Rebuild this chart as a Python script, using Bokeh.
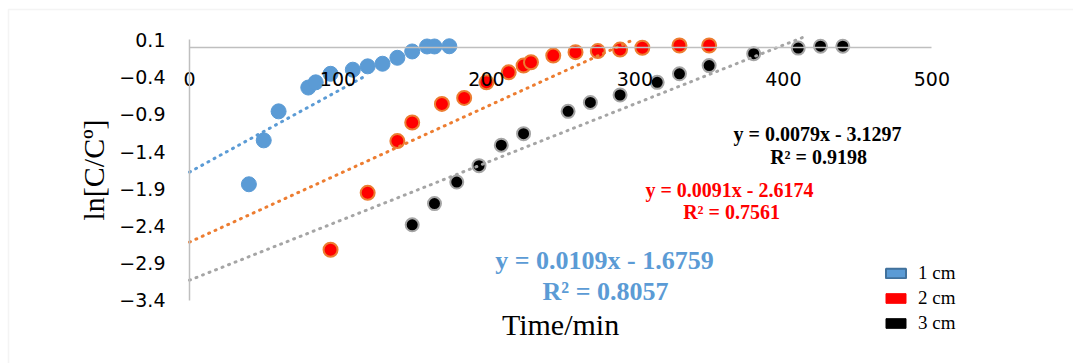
import math
from bokeh.plotting import figure
from bokeh.models import (LinearAxis, FixedTicker, Range1d, Label, Legend,
                          LegendItem, BoxAnnotation)
from bokeh.embed import file_html
from bokeh.resources import INLINE

# ---------------- data ----------------
t_1cm = [40, 50, 60, 80, 85, 95, 110, 120, 130, 140, 150, 160, 165, 175]
ln_1cm = [-1.84, -1.25, -0.86, -0.54, -0.47, -0.355, -0.30, -0.255, -0.22,
          -0.14, -0.055, 0.012, 0.012, 0.015]

t_2cm = [95, 120, 140, 150, 170, 185, 200, 215, 225, 230, 245, 260, 275, 290,
         305, 330, 350]
ln_2cm = [-2.72, -1.955, -1.26, -1.01, -0.76, -0.68, -0.47, -0.335, -0.245,
          -0.20, -0.11, -0.065, -0.05, -0.03, -0.005, 0.025, 0.025]

t_3cm = [150, 165, 180, 195, 210, 225, 255, 270, 290, 315, 330, 350, 380, 410,
         425, 440]
ln_3cm = [-2.385, -2.10, -1.81, -1.59, -1.315, -1.16, -0.86, -0.74, -0.64,
          -0.47, -0.355, -0.245, -0.085, -0.01, 0.016, 0.016]

series_names = ["1 cm", "2 cm", "3 cm"]
slopes = [0.0109, 0.0091, 0.0079]
intercepts = [-1.6759, -2.6174, -3.1297]
r_squared = [0.8057, 0.7561, 0.9198]
trend_end = [117, 300, 414]

x_ticks = [0, 100, 200, 300, 400, 500]
y_ticks = [0.1, -0.4, -0.9, -1.4, -1.9, -2.4, -2.9, -3.4]

# ---------------- styles ----------------
marker_fill = ["#5B9BD5", "#FF0000", "#000000"]
marker_line = ["#5B9BD5", "#ED7D31", "#A5A5A5"]
marker_size = [15, 14, 13]
trend_color = ["#5B9BD5", "#ED7D31", "#A5A5A5"]
legend_line = ["#41719C", "#FF0000", "#000000"]
axis_grey = "#BFBFBF"

p = figure(width=1073, height=363, output_backend="svg", toolbar_location=None,
           x_range=Range1d(-127.3, 595.4), y_range=Range1d(-4.249, 0.630),
           x_axis_location=None, y_axis_location=None,
           min_border_left=0, min_border_right=0, min_border_top=0,
           min_border_bottom=0, outline_line_color=None,
           background_fill_color="white", border_fill_color="white")
p.xgrid.visible = False
p.ygrid.visible = False

# chart-area border (only top/left visible in the cropped picture)
p.add_layout(BoxAnnotation(left=-121.9, top=0.509, right=800, bottom=-10,
                           fill_alpha=0, line_color="#D9D9D9", line_width=1.5))

# axes crossing at (0, 0)
xaxis = LinearAxis(fixed_location=0, bounds=(0, 500),
                   ticker=FixedTicker(ticks=x_ticks),
                   axis_line_color=axis_grey, axis_line_width=1.5,
                   major_tick_line_color=None, minor_tick_line_color=None,
                   major_label_standoff=19,
                   major_label_text_font="DejaVu Sans",
                   major_label_text_font_size="19px",
                   major_label_text_color="#000000")
p.add_layout(xaxis, "below")

yaxis = LinearAxis(fixed_location=0, bounds=(-3.4, 0.1),
                   ticker=FixedTicker(ticks=y_ticks),
                   axis_line_color=axis_grey, axis_line_width=1.5,
                   major_tick_line_color=None, minor_tick_line_color=None,
                   major_label_standoff=18,
                   major_label_text_font="DejaVu Sans",
                   major_label_text_font_size="19px",
                   major_label_text_color="#000000",
                   axis_label="ln[C/Cº]",
                   axis_label_text_font="Liberation Serif",
                   axis_label_text_font_size="30px",
                   axis_label_text_font_style="normal",
                   axis_label_text_color="#000000",
                   axis_label_standoff=6)
p.add_layout(yaxis, "left")

# markers
for xs, ys, i in [(t_1cm, ln_1cm, 0), (t_2cm, ln_2cm, 1), (t_3cm, ln_3cm, 2)]:
    p.scatter(xs, ys, size=marker_size[i], fill_color=marker_fill[i],
              line_color=marker_line[i], line_width=2 if i else 1)

# trend lines (linear fits shown in the labels)
for i in range(3):
    xs = [0, trend_end[i]]
    ys = [intercepts[i] + slopes[i] * v for v in xs]
    p.line(xs, ys, line_color=trend_color[i], line_width=3, line_dash="1 6",
           line_cap="round")

# legend with rectangular swatches
nan = float("nan")
items = []
for i, name in enumerate(series_names):
    r = p.quad(left=[nan], right=[nan], top=[nan], bottom=[nan],
               fill_color=marker_fill[i], line_color=legend_line[i],
               line_width=2 if i == 0 else 1)
    items.append(LegendItem(label=name, renderers=[r]))
legend = Legend(items=items, location=(883, 29), glyph_width=25, glyph_height=12,
                label_standoff=10, padding=0, margin=0, spacing=3,
                label_height=20, border_line_color=None, background_fill_alpha=0,
                label_text_font="Liberation Serif", label_text_font_size="19px",
                label_text_color="#000000")
p.add_layout(legend)

# equation labels
def eq_text(i):
    return f"y = {slopes[i]:.4f}x - {abs(intercepts[i]):.4f}"

def r2_text(i):
    return f"R² = {r_squared[i]:.4f}"

eq_layout = [  # (eq x, eq y, r2 x, r2 y, font size)
    (279.5, -2.864, 280.2, -3.281, "26px"),
    (363.7, -1.911, 365.1, -2.219, "20px"),
    (423.0, -1.159, 423.7, -1.480, "20px"),
]
eq_color = ["#5B9BD5", "#FF0000", "#000000"]
for i, (ex, ey, rx, ry, fs) in enumerate(eq_layout):
    for tx, ty, txt in [(ex, ey, eq_text(i)), (rx, ry, r2_text(i))]:
        p.add_layout(Label(x=tx, y=ty, text=txt, text_font="Liberation Serif",
                           text_font_style="bold", text_font_size=fs,
                           text_color=eq_color[i], text_align="center",
                           text_baseline="middle"))

p.add_layout(Label(x=249.9, y=-3.724, text="Time/min", text_font="Liberation Serif",
                   text_font_size="30px", text_color="#000000",
                   text_align="center", text_baseline="middle"))

open("out.html", "w").write(file_html(p, INLINE))
